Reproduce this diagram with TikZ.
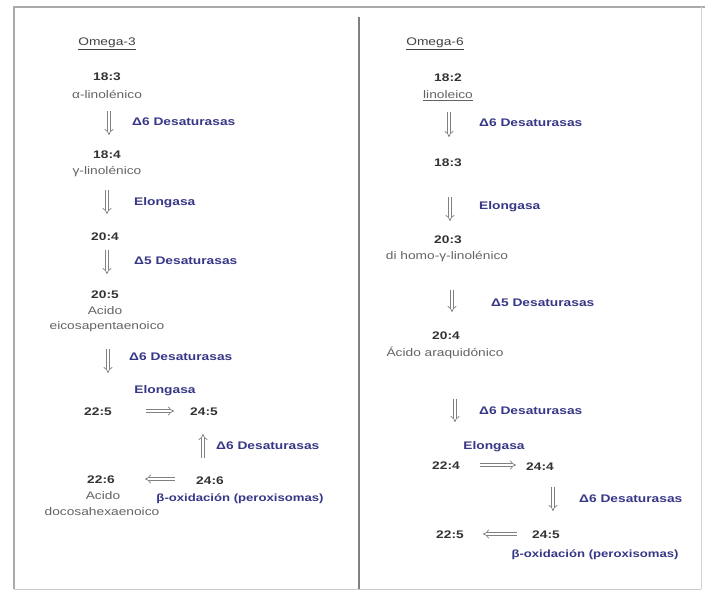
\documentclass[tikz,border=0pt]{standalone}
\usepackage{fontspec}
\setmainfont{Liberation Sans}[FakeStretch=1.25]
\usetikzlibrary{arrows.meta}
\definecolor{enz}{RGB}{55,55,135}
\definecolor{nm}{RGB}{100,100,100}
\definecolor{fr}{RGB}{170,170,170}
\begin{document}
\begin{tikzpicture}[x=1pt,y=-1pt,
  num/.style={font=\fontsize{11}{12}\selectfont\bfseries, text=black!80, inner sep=1pt},
  nam/.style={font=\fontsize{11}{12}\selectfont, text=nm, inner sep=1pt},
  enzl/.style={font=\fontsize{11}{12}\selectfont\bfseries, text=enz, inner sep=1pt},
  ttl/.style={font=\fontsize{11}{12}\selectfont, text=black!75, inner sep=1pt},
  darr/.style={draw=gray, double=white, double distance=2.4pt, line width=0.7pt, -{Implies}},
]
\useasboundingbox (0,0) rectangle (705,592);
\fill[white] (0,0) rectangle (705,592);
% frame
\draw[fr, line width=1.6pt] (14,589) -- (14,7) -- (705,7);
\draw[fr!60, line width=1pt] (14,589) -- (701,589);
\draw[fr!50, line width=0.8pt] (701,7) -- (701,589);
\draw[gray, line width=1.6pt] (359,17) -- (359,589);

% ===== Omega-3 =====
\node[ttl] (t3) at (107,44) {\underline{Omega-3}};
\node[num] (a1) at (107,77) {18:3};
\node[nam] (a1n) at (107,95) {α-linolénico};
\coordinate (a1b) at (109,111);
\coordinate (a2t) at (109,135);
\draw[darr] (a1b) -- (a2t);
\node[enzl, anchor=west] (e1) at (131,122) {Δ6 Desaturasas};
\node[num] (a2) at (107,155) {18:4};
\node[nam] (a2n) at (107,172) {γ-linolénico};
\coordinate (a2b) at (107,190);
\coordinate (a3t) at (107,214);
\draw[darr] (a2b) -- (a3t);
\node[enzl, anchor=west] (e2) at (133,203) {Elongasa};
\node[num] (a3) at (105,237) {20:4};
\coordinate (a3b) at (107,250);
\coordinate (a4t) at (107,274);
\draw[darr] (a3b) -- (a4t);
\node[enzl, anchor=west] (e3) at (133,261) {Δ5 Desaturasas};
\node[num] (a4) at (105,295) {20:5};
\node[nam] (a4n) at (105,311) {Acido};
\node[nam] (a4m) at (107,327) {eicosapentaenoico};
\coordinate (a4b) at (108,349);
\coordinate (a5t) at (108,373);
\draw[darr] (a4b) -- (a5t);
\node[enzl, anchor=west] (e4) at (128,357) {Δ6 Desaturasas};
\node[enzl] (e5) at (165,391) {Elongasa};
\node[num] (a5) at (98,412) {22:5};
\node[num] (a6) at (204,412) {24:5};
\coordinate (h1) at (146,411);
\coordinate (h2) at (174,411);
\draw[darr] (h1) -- (h2);
\coordinate (v1) at (203,458);
\coordinate (v2) at (203,434);
\draw[darr] (v1) -- (v2);
\node[enzl, anchor=west] (e6) at (215,446) {Δ6 Desaturasas};
\node[num] (a7) at (101,480) {22:6};
\node[num] (a8) at (210,481) {24:6};
\coordinate (h3) at (175,479);
\coordinate (h4) at (145,479);
\draw[darr] (h3) -- (h4);
\node[nam] (a7n) at (103,496) {Acido};
\node[nam] (a7m) at (102,512) {docosahexaenoico};
\node[enzl, font=\fontsize{10.5}{11.5}\selectfont\bfseries] (e7) at (240,499) {β-oxidación (peroxisomas)};

% ===== Omega-6 =====
\node[ttl] (t6) at (435,44) {\underline{Omega-6}};
\node[num] (b1) at (448,78) {18:2};
\node[nam] (b1n) at (448,96) {\underline{linoleico}};
\coordinate (b1b) at (449,112);
\coordinate (b2t) at (449,137);
\draw[darr] (b1b) -- (b2t);
\node[enzl, anchor=west] (f1) at (478,123) {Δ6 Desaturasas};
\node[num] (b2) at (448,163) {18:3};
\coordinate (b2b) at (450,197);
\coordinate (b3t) at (450,221);
\draw[darr] (b2b) -- (b3t);
\node[enzl, anchor=west] (f2) at (478,207) {Elongasa};
\node[num] (b3) at (448,240) {20:3};
\node[nam] (b3n) at (447,257) {di homo-γ-linolénico};
\coordinate (b3b) at (452,290);
\coordinate (b4t) at (452,312);
\draw[darr] (b3b) -- (b4t);
\node[enzl, anchor=west] (f3) at (490,303) {Δ5 Desaturasas};
\node[num] (b4) at (446,336) {20:4};
\node[nam] (b4n) at (445,353) {Ácido araquidónico};
\coordinate (b4b) at (455,399);
\coordinate (b5t) at (455,422);
\draw[darr] (b4b) -- (b5t);
\node[enzl, anchor=west] (f4) at (478,411) {Δ6 Desaturasas};
\node[enzl] (f5) at (494,447) {Elongasa};
\node[num] (b5) at (446,466) {22:4};
\node[num] (b6) at (540,467) {24:4};
\coordinate (g1) at (480,465);
\coordinate (g2) at (516,465);
\draw[darr] (g1) -- (g2);
\coordinate (g3) at (553,487);
\coordinate (g4) at (553,511);
\draw[darr] (g3) -- (g4);
\node[enzl, anchor=west] (f6) at (578,499) {Δ6 Desaturasas};
\node[num] (b7) at (450,535) {22:5};
\node[num] (b8) at (546,535) {24:5};
\coordinate (g5) at (517,534);
\coordinate (g6) at (483,534);
\draw[darr] (g5) -- (g6);
\node[enzl, font=\fontsize{10.5}{11.5}\selectfont\bfseries] (f7) at (595,555) {β-oxidación (peroxisomas)};
\end{tikzpicture}
\end{document}
